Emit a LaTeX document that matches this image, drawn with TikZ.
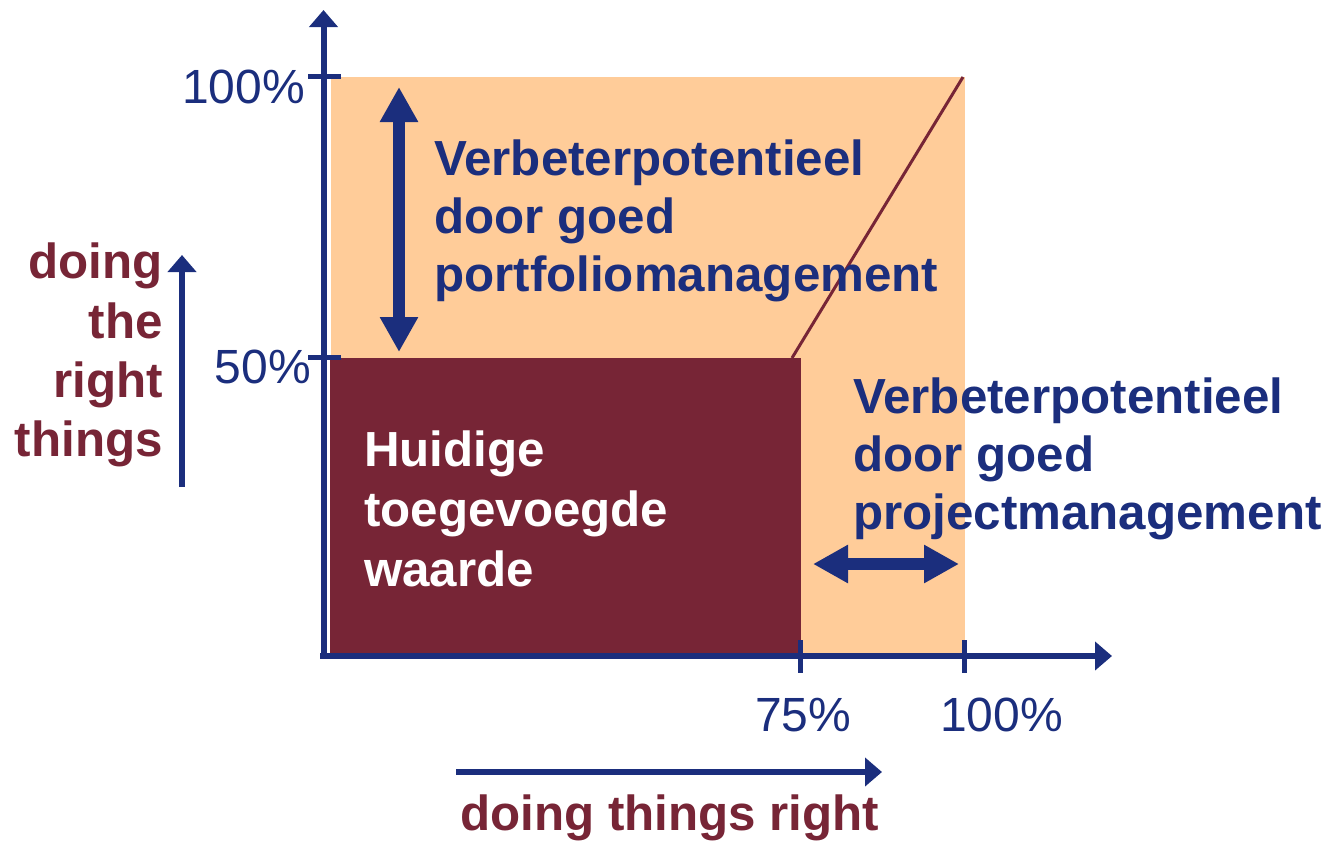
\documentclass[tikz,border=0pt]{standalone}
\usepackage{fontspec}
\setmainfont{Liberation Sans}
\usetikzlibrary{arrows.meta}
\definecolor{navy}{HTML}{1B2E7D}
\definecolor{peach}{HTML}{FFCC99}
\definecolor{wine}{HTML}{772536}
\tikzset{
  axisline/.style={navy, line width=6pt, -{Triangle[length=17pt,width=28pt]}},
  tickline/.style={navy, line width=5pt},
  bigdouble/.style={navy, line width=12pt, {Triangle[length=35pt,width=36pt]}-{Triangle[length=35pt,width=36pt]}},
  boldtxt/.style={inner sep=0pt, font=\fontsize{49.3}{58.5}\selectfont\bfseries},
  numtxt/.style={inner sep=0pt, navy, font=\fontsize{48}{56}\selectfont},
}
\begin{document}
\begin{tikzpicture}[x=1pt,y=-1pt]
\useasboundingbox (0,0) rectangle (1332,841);
% areas
\fill[peach] (331,77) rectangle (965,653);
\fill[wine] (330,358) rectangle (800.5,653);
\coordinate (ls) at (792,358);
\coordinate (le) at (963,77);
\draw[wine, line width=3pt] (ls) -- (le);
% axes
\coordinate (origin) at (323.5,656);
\coordinate (ytop) at (323.5,10);
\coordinate (xorig) at (320,656);
\coordinate (xend) at (1112,656);
\draw[axisline] (origin) -- (ytop);
\draw[axisline] (xorig) -- (xend);
% ticks
\coordinate (t1a) at (308,76); \coordinate (t1b) at (341,76);
\coordinate (t2a) at (308,357); \coordinate (t2b) at (341,357);
\coordinate (t3a) at (800,640); \coordinate (t3b) at (800,673);
\coordinate (t4a) at (964,640); \coordinate (t4b) at (964,673);
\draw[tickline] (t1a) -- (t1b);
\draw[tickline] (t2a) -- (t2b);
\draw[tickline] (t3a) -- (t3b);
\draw[tickline] (t4a) -- (t4b);
% tick labels
\node[numtxt, anchor=base east] (y100) at (305,103) {100\%};
\node[numtxt, anchor=base east] (y50) at (311,383) {50\%};
\node[numtxt, anchor=base west] (x75) at (755,731) {75\%};
\node[numtxt, anchor=base west] (x100) at (940,731) {100\%};
% double arrows
\coordinate (va) at (399,87); \coordinate (vb) at (399,352);
\draw[bigdouble] (va) -- (vb);
\coordinate (ha) at (813,564); \coordinate (hb) at (959,564);
\draw[bigdouble] (ha) -- (hb);
% side arrows
\coordinate (la) at (182,487); \coordinate (lb) at (182,255);
\draw[axisline] (la) -- (lb);
\coordinate (ba) at (456,772); \coordinate (bb) at (882,772);
\draw[axisline] (ba) -- (bb);
% portfolio text
\node[boldtxt, navy, anchor=base west] (p1) at (434,175) {Verbeterpotentieel};
\node[boldtxt, navy, anchor=base west] (p2) at (434,233) {door goed};
\node[boldtxt, navy, anchor=base west] (p3) at (434,291.5) {portfoliomanagement};
% project text
\node[boldtxt, navy, anchor=base west] (q1) at (853,413) {Verbeterpotentieel};
\node[boldtxt, navy, anchor=base west] (q2) at (853,471) {door goed};
\node[boldtxt, navy, anchor=base west] (q3) at (853,529.5) {projectmanagement};
% current value
\node[boldtxt, white, anchor=base west] (h1) at (364,466) {Huidige};
\node[boldtxt, white, anchor=base west] (h2) at (364,526) {toegevoegde};
\node[boldtxt, white, anchor=base west] (h3) at (364,586) {waarde};
% doing the right things
\node[boldtxt, wine, anchor=base east] (d1) at (163,278) {doing};
\node[boldtxt, wine, anchor=base east] (d2) at (163,338) {the};
\node[boldtxt, wine, anchor=base east] (d3) at (163,397) {right};
\node[boldtxt, wine, anchor=base east] (d4) at (163,456) {things};
% doing things right
\node[boldtxt, wine, anchor=base west] (r1) at (460,830) {doing things right};
\end{tikzpicture}
\end{document}
